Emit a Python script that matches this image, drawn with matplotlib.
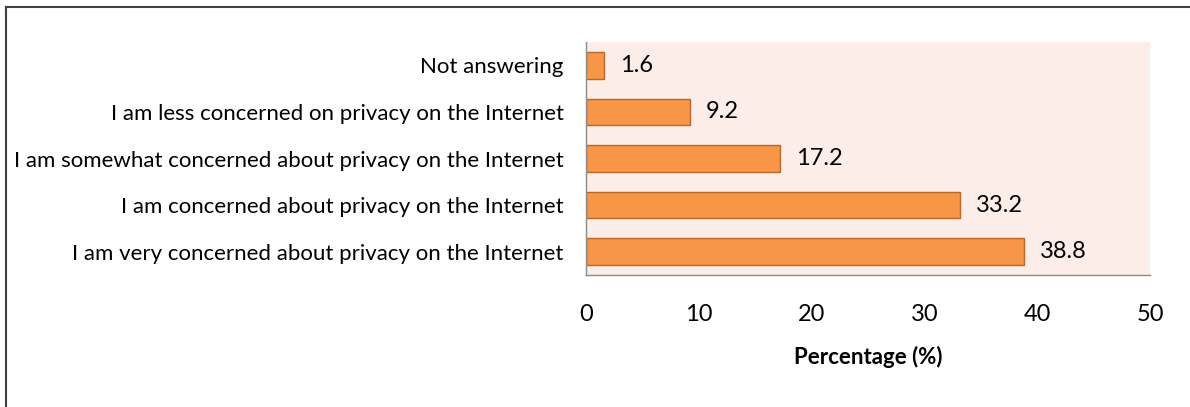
import matplotlib.pyplot as plt
from matplotlib.lines import Line2D

categories = [
    "I am very concerned about privacy on the Internet",
    "I am concerned about privacy on the Internet",
    "I am somewhat concerned about privacy on the Internet",
    "I am less concerned on privacy on the Internet",
    "Not answering",
]
percentages = [38.8, 33.2, 17.2, 9.2, 1.6]
x_ticks = [0, 10, 20, 30, 40, 50]

plt.rcParams["font.family"] = ["Lato", "DejaVu Sans"]
FS = 16

fig = plt.figure(figsize=(11.9, 4.07), dpi=100)
fig.patch.set_facecolor("white")
ax = fig.add_axes([0.4924, 0.3243, 0.4740, 0.5725])
ax.set_facecolor("#FDEDE8")

y = range(len(categories))
ax.barh(y, percentages, height=0.57, color="#F79646", edgecolor="#B9682A", linewidth=1.0)
for yi, v in zip(y, percentages):
    ax.text(v + 1.4, yi, f"{v:.1f}", va="center", ha="left", fontsize=FS + 1, color="black")

ax.set_xlim(0, 50)
ax.set_ylim(-0.5, len(categories) - 0.5)
ax.set_xticks(x_ticks)
ax.set_xticklabels([str(t) for t in x_ticks], fontsize=FS + 1)
ax.set_yticks(list(y))
ax.set_yticklabels(categories, fontsize=FS)
ax.tick_params(axis="both", length=0)
ax.tick_params(axis="x", pad=21)
ax.tick_params(axis="y", pad=16)
ax.set_xlabel("Percentage (%)", fontsize=FS, fontweight="bold", labelpad=15)

for side in ["top", "right"]:
    ax.spines[side].set_visible(False)
for side in ["left", "bottom"]:
    ax.spines[side].set_color("#8C8C8C")
    ax.spines[side].set_linewidth(1.0)

# outer frame (top and left edges only)
fig.add_artist(Line2D([0.005, 1.0], [0.984, 0.984], color="#404040", lw=1.5, transform=fig.transFigure))
fig.add_artist(Line2D([0.005, 0.005], [0.0, 0.984], color="#404040", lw=1.5, transform=fig.transFigure))

fig.savefig("out.png", dpi=100, facecolor="white")
